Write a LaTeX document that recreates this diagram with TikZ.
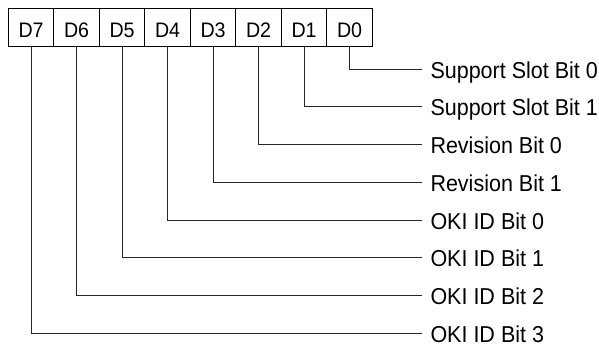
\documentclass[tikz,border=0pt]{standalone}
\usepackage{fontspec}
\setmainfont{Liberation Sans}[FakeStretch=0.935]
\begin{document}
\begin{tikzpicture}[x=1pt,y=-1pt,
  bitbox/.style={draw=black, line width=1pt, minimum width=45.5pt, minimum height=37.7pt,
    inner sep=0pt, text height=20pt, text depth=0pt, font=\fontsize{21}{24}\selectfont},
  bitlabel/.style={anchor=west, inner xsep=8pt, inner ysep=0pt, text height=18pt, text depth=0pt,
    font=\fontsize{23}{26}\selectfont},
  wire/.style={draw=black!85, line width=1pt}]
\useasboundingbox (0,0) rectangle (599,346);
% register boxes
\foreach \i/\n in {0/7,1/6,2/5,3/4,4/3,5/2,6/1,7/0}{
  \node[bitbox] (b\n) at ({31.05+45.5*\i}, 27.15) {D\n};
}
% labels
\node[bitlabel] (l0) at (422.3, 69.0)  {Support Slot Bit 0};
\node[bitlabel] (l1) at (422.3, 106.75) {Support Slot Bit 1};
\node[bitlabel] (l2) at (422.3, 144.5) {Revision Bit 0};
\node[bitlabel] (l3) at (422.3, 182.25) {Revision Bit 1};
\node[bitlabel] (l4) at (422.3, 220.0) {OKI ID Bit 0};
\node[bitlabel] (l5) at (422.3, 257.75) {OKI ID Bit 1};
\node[bitlabel] (l6) at (422.3, 295.5) {OKI ID Bit 2};
\node[bitlabel] (l7) at (422.3, 333.25) {OKI ID Bit 3};
% connectors
\foreach \n in {0,...,7}{
  \draw[wire] (b\n.south) |- (l\n.west);
}
\end{tikzpicture}
\end{document}
